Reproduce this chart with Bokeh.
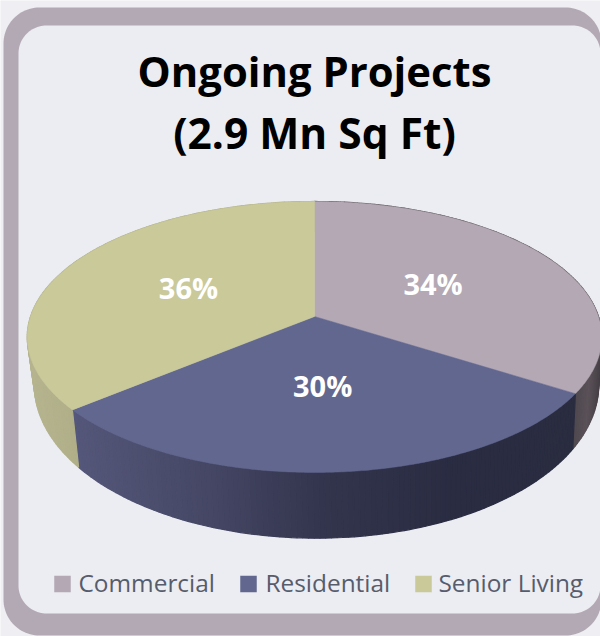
import math
from bokeh.core.properties import value
from bokeh.embed import file_html
from bokeh.models import Range1d
from bokeh.plotting import figure
from bokeh.resources import INLINE

# Chart content
title_lines = ["Ongoing Projects", "(2.9 Mn Sq Ft)"]
title_sizes = ["41.8px", "42.5px"]
categories = ["Commercial", "Residential", "Senior Living"]
shares = [34, 30, 36]
top_colors = ["#b3a8b4", "#62678f", "#c9c99a"]
# Shading along each slice's outer wall, left to right on screen
wall_shades = [
    ["#4f494f", "#5a5258", "#443e44"],
    ["#55577a", "#464866", "#33354d", "#2a2c42", "#2a2c40"],
    ["#b5b48f", "#b0af88"],
]
legend_swatch_x = [54, 240, 415]
legend_text_x = [78, 265, 438]

W, H = 600, 636
CX, CY = 314, 316
PERSP = 0.151
TOP_A, TOP_B, TOP_Y = 284.0, 132.4, CY
BASE_A, BASE_B, BASE_Y = 279.0, 150.0, 361
BASE_CX = CX + 2


def project(theta_deg, r=1.0, a=TOP_A, b=TOP_B, y0=TOP_Y, x0=CX):
    """Map a polar position on the pie disc (clockwise from 12 o'clock) to the canvas."""
    t = math.radians(theta_deg)
    u, v = r * math.sin(t), r * math.cos(t)
    d = 1 + PERSP * v
    return x0 + a * u / d, y0 - b * v / d


def rounded_box(x0, y0, x1, y1, radius, steps=24):
    xs, ys = [], []
    corners = [
        (x1 - radius, y0 + radius, -90),
        (x1 - radius, y1 - radius, 0),
        (x0 + radius, y1 - radius, 90),
        (x0 + radius, y0 + radius, 180),
    ]
    for cx, cy, start in corners:
        for i in range(steps + 1):
            a = math.radians(start + 90 * i / steps)
            xs.append(cx + radius * math.cos(a))
            ys.append(cy + radius * math.sin(a))
    return xs, ys


def hex_rgb(c):
    return tuple(int(c[i:i + 2], 16) for i in (1, 3, 5))


def shade_at(stops, f):
    f = min(max(f, 0.0), 1.0) * (len(stops) - 1)
    i = min(int(f), len(stops) - 2)
    t = f - i
    a, b = hex_rgb(stops[i]), hex_rgb(stops[i + 1])
    return "#%02x%02x%02x" % tuple(round(a[k] + (b[k] - a[k]) * t) for k in range(3))


p = figure(
    width=W,
    height=H,
    x_range=Range1d(0, W),
    y_range=Range1d(H, 0),
    output_backend="svg",
    toolbar_location=None,
    min_border=0,
    outline_line_color=None,
    background_fill_color="#eeeef3",
    border_fill_color="#eeeef3",
)
p.xaxis.visible = False
p.yaxis.visible = False
p.grid.visible = False

# Frame and inner panel
xs, ys = rounded_box(3, 7, 601, 635, 36)
p.patch(xs, ys, fill_color="#b3a9b5", line_color=None)
xs, ys = rounded_box(18, 25, 600, 613, 28)
p.patch(xs, ys, fill_color="#ecedf2", line_color=None)

# Slice boundaries in degrees, clockwise from the top
total = sum(shares)
edges = [0.0]
for s in shares:
    edges.append(edges[-1] + 360.0 * s / total)

# Outer walls, built from narrow quads so the shade can vary across them
for k in range(len(shares)):
    start, end = edges[k], edges[k + 1]
    n = max(2, int((end - start)))
    screen = [project(start + (end - start) * i / n) for i in range(n + 1)]
    lo = min(q[0] for q in screen if q[1] > TOP_Y)
    hi = max(q[0] for q in screen if q[1] > TOP_Y)
    for i in range(n):
        a0 = start + (end - start) * i / n
        a1 = start + (end - start) * (i + 1) / n
        t0, t1 = project(a0), project(a1)
        b0 = project(a0, a=BASE_A, b=BASE_B, y0=BASE_Y, x0=BASE_CX)
        b1 = project(a1, a=BASE_A, b=BASE_B, y0=BASE_Y, x0=BASE_CX)
        color = shade_at(wall_shades[k], ((t0[0] + t1[0]) / 2 - lo) / max(hi - lo, 1))
        p.patch(
            [t0[0], t1[0], b1[0], b0[0]],
            [t0[1], t1[1], b1[1], b0[1]],
            fill_color=color,
            line_color=color,
            line_width=1.2,
        )

# Top faces of the slices
for k in range(len(shares)):
    start, end = edges[k], edges[k + 1]
    n = int(end - start) * 2
    rim = [project(start + (end - start) * i / n) for i in range(n + 1)]
    p.patch(
        [CX] + [q[0] for q in rim],
        [CY] + [q[1] for q in rim],
        fill_color=top_colors[k],
        line_color=top_colors[k],
        line_width=0.5,
    )

# Percentage labels at mid-radius of each slice
for k, s in enumerate(shares):
    x, y = project((edges[k] + edges[k + 1]) / 2, r=0.5)
    p.text(
        [x - 1.5], [y - 2], text=[f"{s}%"],
        text_color="#ffffff",
        text_font=value("Open Sans"),
        text_font_style="bold",
        text_font_size="29px",
        text_align="center",
        text_baseline="middle",
    )

# Title
for line, size, mid in zip(title_lines, title_sizes, [70, 132]):
    p.text(
        [CX], [mid], text=[line],
        text_color="#000000",
        text_font=value("Open Sans"),
        text_font_style="bold",
        text_font_size=size,
        text_align="center",
        text_baseline="middle",
    )

# Legend
for name, color, sx, tx in zip(categories, top_colors, legend_swatch_x, legend_text_x):
    p.rect([sx + 8], [583.5], width=16.5, height=16.5, fill_color=color, line_color=None)
    p.text(
        [tx], [582], text=[name],
        text_color="#575c6c",
        text_font=value("Open Sans"),
        text_font_size="24.4px",
        text_align="left",
        text_baseline="middle",
    )

open("out.html", "w").write(file_html(p, INLINE))
